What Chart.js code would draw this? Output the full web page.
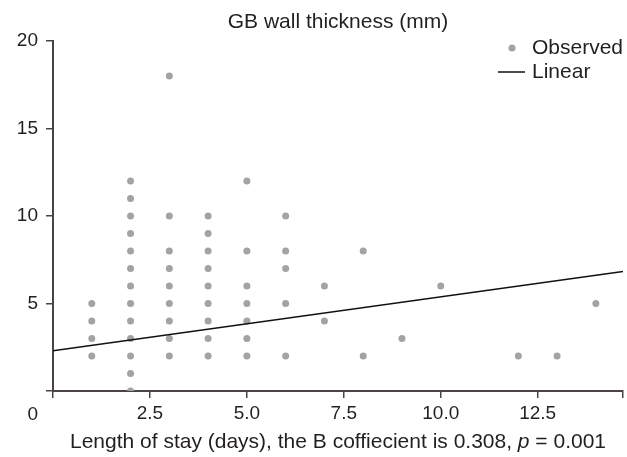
<!DOCTYPE html>
<html>
<head>
<meta charset="utf-8">
<script src="https://cdn.jsdelivr.net/npm/chart.js@4"></script>
<style>
  body { margin: 0; background: #fff; }
  #wrap { width: 627px; height: 457px; }
</style>
</head>
<body>
<div id="wrap"><canvas id="canvas"></canvas></div>
<script>
// observed points (length of stay, wall thickness)
var obsX = [1,1,1,1,
  2,2,2,2,2,2,2,2,2,2,2,2,2,
  3,3,3,3,3,3,3,3,3,
  4,4,4,4,4,4,4,4,4,
  5,5,5,5,5,5,5,
  6,6,6,6,6,
  7,7, 8,8, 9, 10, 12, 13, 14];
var obsY = [5,4,3,2,
  12,11,10,9,8,7,6,5,4,3,2,1,0,
  18,10,8,7,6,5,4,3,2,
  10,9,8,7,6,5,4,3,2,
  12,8,6,5,4,3,2,
  10,8,7,5,2,
  6,4, 8,2, 3, 6, 2, 2, 5];

// fitted line end points
var lineX = [0, 14.7];
var lineY = [2.3, 6.83];

var xTicks = [0, 2.5, 5, 7.5, 10, 12.5, 14.7];
var xLabels = ['', '2.5', '5.0', '7.5', '10.0', '12.5', ''];
var yTicks = [0, 5, 10, 15, 20];

var axisColor = '#4a4543';
var dotColor = '#a3a3a3';
var textColor = '#231f20';
var fontFam = '"Liberation Sans", Arial, sans-serif';

var observed = obsX.map(function(x, i) { return {x: x, y: obsY[i]}; });
var linear = lineX.map(function(x, i) { return {x: x, y: lineY[i]}; });

// legend, x title with italic p, and the lone "0" under the y axis
var extras = {
  id: 'extras',
  afterDraw: function(chart) {
    var ctx = chart.ctx, a = chart.chartArea;
    ctx.save();
    ctx.font = '21px ' + fontFam;
    ctx.textBaseline = 'middle';
    ctx.beginPath();
    ctx.arc(a.right - 111, 48, 3.5, 0, Math.PI * 2);
    ctx.fillStyle = dotColor;
    ctx.fill();
    ctx.fillStyle = textColor;
    ctx.fillText('Observed', a.right - 91, 48);
    ctx.beginPath();
    ctx.moveTo(a.right - 125, 72);
    ctx.lineTo(a.right - 98, 72);
    ctx.strokeStyle = '#111';
    ctx.lineWidth = 1.5;
    ctx.stroke();
    ctx.fillText('Linear', a.right - 91, 72);

    // x axis title
    var parts = [
      ['Length of stay (days), the B coffiecient is 0.308, ', ''],
      ['p', 'italic '],
      [' = 0.001', '']
    ];
    var w = 0;
    parts.forEach(function(p) { ctx.font = p[1] + '21px ' + fontFam; w += ctx.measureText(p[0]).width; });
    var x = (a.left + a.right) / 2 - w / 2;
    parts.forEach(function(p) {
      ctx.font = p[1] + '21px ' + fontFam;
      ctx.fillText(p[0], x, 442);
      x += ctx.measureText(p[0]).width;
    });

    ctx.font = '19px ' + fontFam;
    ctx.textAlign = 'right';
    ctx.fillText('0', chart.scales.y.right - 15, 415);
    ctx.restore();
  }
};

new Chart(document.getElementById('canvas'), {
  type: 'scatter',
  data: {
    datasets: [
      {
        label: 'Linear',
        type: 'line',
        data: linear,
        borderColor: '#111',
        borderWidth: 1.5,
        pointRadius: 0,
        order: 0
      },
      {
        label: 'Observed',
        data: observed,
        backgroundColor: dotColor,
        borderWidth: 0,
        pointRadius: 3.5,
        order: 1
      }
    ]
  },
  options: {
    responsive: true,
    maintainAspectRatio: false,
    animation: false,
    layout: { padding: { left: 0, right: 4, top: 0, bottom: 0 } },
    plugins: { legend: { display: false }, tooltip: { enabled: false } },
    scales: {
      x: {
        type: 'linear',
        min: 0,
        max: 14.7,
        afterBuildTicks: function(s) { s.ticks = xTicks.map(function(v) { return {value: v}; }); },
        afterFit: function(s) { s.height = 66; },
        ticks: {
          color: textColor,
          font: { size: 19, family: fontFam },
          padding: 4,
          maxRotation: 0,
          autoSkip: false,
          callback: function(v, i) { return xLabels[i]; }
        },
        grid: { drawOnChartArea: false, color: axisColor, lineWidth: 1.5, tickLength: 7 },
        border: { color: axisColor, width: 2 }
      },
      x2: {
        type: 'linear',
        position: 'top',
        min: 0,
        max: 14.7,
        afterFit: function(s) { s.height = 41; },
        ticks: { display: false },
        grid: { display: false },
        border: { display: false },
        title: {
          display: true,
          text: 'GB wall thickness (mm)',
          color: textColor,
          font: { size: 21, family: fontFam },
          padding: { top: 10, bottom: 0 }
        }
      },
      y: {
        min: 0,
        max: 20,
        afterBuildTicks: function(s) { s.ticks = yTicks.map(function(v) { return {value: v}; }); },
        afterFit: function(s) { s.width = 53; },
        ticks: {
          color: textColor,
          font: { size: 19, family: fontFam },
          padding: 8,
          callback: function(v) { return v === 0 ? '' : v; }
        },
        grid: { drawOnChartArea: false, color: axisColor, lineWidth: 1.5, tickLength: 7 },
        border: { color: axisColor, width: 2 }
      }
    }
  },
  plugins: [extras]
});
</script>
</body>
</html>
